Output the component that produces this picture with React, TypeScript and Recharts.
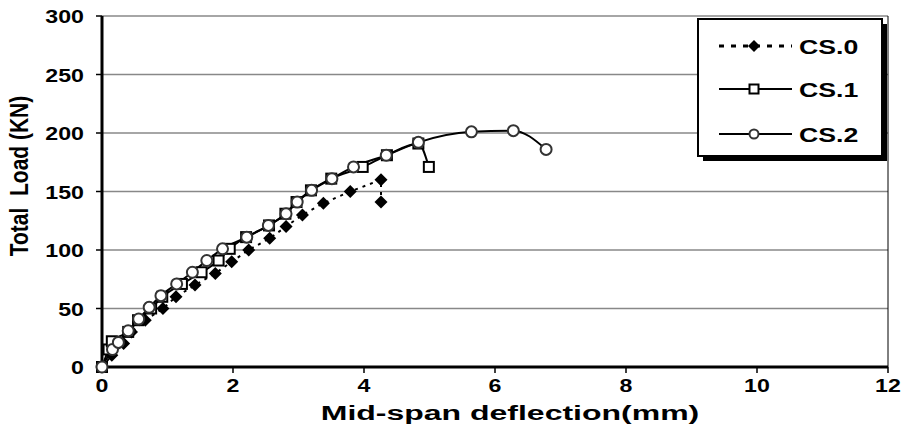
import {
  LineChart,
  Line,
  XAxis,
  YAxis,
  CartesianGrid,
  ReferenceLine,
  Legend,
} from "recharts";

const xTicks = [0, 2, 4, 6, 8, 10, 12];
const yTicks = [0, 50, 100, 150, 200, 250, 300];

const cs0X = [0, 0.15, 0.33, 0.45, 0.66, 0.93, 1.13, 1.42, 1.73, 1.98, 2.24, 2.56, 2.81, 3.06, 3.38, 3.79, 4.26, 4.26];
const cs0Y = [0, 10, 20, 30, 40, 50, 60, 70, 80, 90, 100, 110, 120, 130, 140, 150, 160, 141];

const cs1X = [0, 0.1, 0.15, 0.4, 0.55, 0.75, 0.92, 1.22, 1.52, 1.78, 1.95, 2.2, 2.55, 2.8, 2.97, 3.19, 3.5, 3.98, 4.35, 4.83, 4.99];
const cs1Y = [0, 15, 22, 30, 40, 50, 60, 71, 81, 91, 101, 111, 121, 131, 141, 151, 161, 171, 181, 191, 171];

const cs2X = [0, 0.16, 0.25, 0.4, 0.56, 0.72, 0.9, 1.14, 1.38, 1.6, 1.84, 2.21, 2.54, 2.81, 2.98, 3.2, 3.51, 3.84, 4.34, 4.83, 5.64, 6.28, 6.78];
const cs2Y = [0, 15, 21, 31, 41, 51, 61, 71, 81, 91, 101, 111, 121, 131, 141, 151, 161, 171, 181, 192, 201, 202, 186];

const seriesNames = ["CS.0", "CS.1", "CS.2"];

const toPoints = (xs: number[], ys: number[]) => xs.map((x, i) => ({ x, y: ys[i] }));

const FONT = "'Liberation Sans', Arial, sans-serif";
const STRETCH = 1.22;

function Diamond({ cx, cy, r = 6.5 }: any) {
  return <path d={`M${cx},${cy - r}L${cx + r},${cy}L${cx},${cy + r}L${cx - r},${cy}Z`} fill="#000" />;
}

function Square({ cx, cy, s = 10 }: any) {
  return <rect x={cx - s / 2} y={cy - s / 2} width={s} height={s} fill="#fff" stroke="#000" strokeWidth={2} />;
}

function Ring({ cx, cy, r = 5.5 }: any) {
  return <circle cx={cx} cy={cy} r={r} fill="#fff" stroke="#333" strokeWidth={2} />;
}

function XTick({ x, y, payload }: any) {
  return (
    <g transform={`translate(${x},${y}) scale(${STRETCH},1)`}>
      <text x={0} y={15} textAnchor="middle" fontFamily={FONT} fontWeight="bold" fontSize={19} fill="#000">
        {payload.value}
      </text>
    </g>
  );
}

function YTick({ x, y, payload }: any) {
  return (
    <g transform={`translate(${x},${y}) scale(${STRETCH},1)`}>
      <text x={0} y={7} textAnchor="end" fontFamily={FONT} fontWeight="bold" fontSize={19} fill="#000">
        {payload.value}
      </text>
    </g>
  );
}

function LegendBox() {
  const rows = [
    { name: seriesNames[0], y: 28, dash: "5 7", mark: (cx: number, cy: number) => <Diamond cx={cx} cy={cy} r={6} /> },
    { name: seriesNames[1], y: 71, dash: undefined, mark: (cx: number, cy: number) => <Square cx={cx} cy={cy} s={9} /> },
    { name: seriesNames[2], y: 116, dash: undefined, mark: (cx: number, cy: number) => <Ring cx={cx} cy={cy} r={4.5} /> },
  ];
  return (
    <svg width={192} height={145} style={{ display: "block" }}>
      <rect x={6} y={6} width={184} height={137} fill="#000" />
      <rect x={1} y={1} width={184} height={137} fill="#fff" stroke="#000" strokeWidth={2} />
      {rows.map((r) => (
        <g key={r.name}>
          <line x1={22} x2={95} y1={r.y} y2={r.y} stroke="#000" strokeWidth={r.dash ? 3 : 2} strokeDasharray={r.dash} />
          {r.mark(57, r.y)}
          <g transform={`translate(102,${r.y + 7.5}) scale(1.27,1)`}>
            <text fontFamily={FONT} fontWeight="bold" fontSize={21} fill="#000">{r.name}</text>
          </g>
        </g>
      ))}
    </svg>
  );
}

export default function App() {
  return (
    <div style={{ position: "absolute", left: 0, top: 0, background: "#fff" }}>
      <LineChart width={906} height={436} margin={{ top: 16, right: 18, left: 22, bottom: 20 }}>
        <CartesianGrid horizontal vertical={false} stroke="#888" strokeWidth={1.5} />
        <XAxis
          type="number"
          dataKey="x"
          domain={[0, 12]}
          ticks={xTicks}
          height={49}
          axisLine={{ stroke: "#000", strokeWidth: 3 }}
          tickLine={{ stroke: "#000", strokeWidth: 1.5 }}
          tickSize={6}
          tickMargin={4}
          tick={<XTick />}
          interval={0}
          allowDuplicatedCategory={false}
        />
        <YAxis
          type="number"
          dataKey="y"
          domain={[0, 300]}
          ticks={yTicks}
          width={80}
          axisLine={{ stroke: "#000", strokeWidth: 3 }}
          tickLine={{ stroke: "#000", strokeWidth: 1.5 }}
          tickSize={6}
          tickMargin={12}
          tick={<YTick />}
          interval={0}
        />
        <ReferenceLine x={12} stroke="#000" strokeWidth={1} />
        <Line
          data={toPoints(cs0X, cs0Y)}
          dataKey="y"
          name={seriesNames[0]}
          type="linear"
          stroke="#000"
          strokeWidth={2}
          strokeDasharray="3 5"
          dot={(p: any) => <Diamond key={`d${p.index}`} cx={p.cx} cy={p.cy} />}
          isAnimationActive={false}
        />
        <Line
          data={toPoints(cs1X, cs1Y)}
          dataKey="y"
          name={seriesNames[1]}
          type="monotone"
          stroke="#000"
          strokeWidth={2}
          dot={(p: any) => <Square key={`s${p.index}`} cx={p.cx} cy={p.cy} />}
          isAnimationActive={false}
        />
        <Line
          data={toPoints(cs2X, cs2Y)}
          dataKey="y"
          name={seriesNames[2]}
          type="monotone"
          stroke="#000"
          strokeWidth={2}
          dot={(p: any) => <Ring key={`c${p.index}`} cx={p.cx} cy={p.cy} />}
          isAnimationActive={false}
        />
        <Legend
          layout="horizontal"
          verticalAlign="middle"
          align="center"
          content={() => <LegendBox />}
          wrapperStyle={{ position: "absolute", left: 697, top: 18, width: 192, height: 145 }}
        />
        <text
          transform={`translate(28,176) scale(1.25,1) rotate(-90)`}
          textAnchor="middle"
          fontFamily={FONT}
          fontWeight="bold"
          fontSize={21}
          fill="#000"
          style={{ whiteSpace: "pre" }}
        >
          {"Total\u00a0\u00a0Load (KN)"}
        </text>
        <g transform={`translate(510,420) scale(1.6,1)`}>
          <text textAnchor="middle" fontFamily={FONT} fontWeight="bold" fontSize={20} fill="#000">
            Mid-span deflection(mm)
          </text>
        </g>
      </LineChart>
    </div>
  );
}
